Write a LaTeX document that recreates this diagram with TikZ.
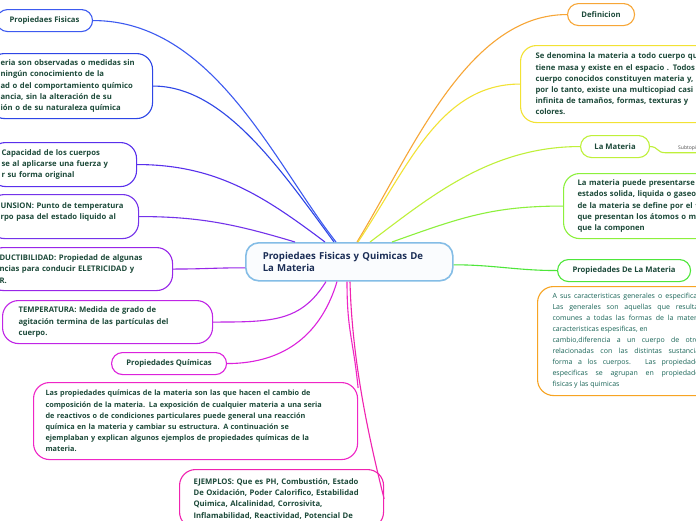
\documentclass[tikz,border=0pt]{standalone}
\usepackage{fontspec}
\setmainfont{Open Sans}
\usetikzlibrary{calc}
\definecolor{TopicText}{HTML}{1D4A3A}
\definecolor{CtrText}  {HTML}{1A2D55}
\definecolor{CtrLine}  {HTML}{84BDE6}
\definecolor{ColFis}   {HTML}{3D5AF0}
\definecolor{ColFisPar}{HTML}{2E46E6}
\definecolor{ColElas}  {HTML}{5930EC}
\definecolor{ColFus}   {HTML}{7433EA}
\definecolor{ColDuct}  {HTML}{9826E8}
\definecolor{ColTemp}  {HTML}{C025E6}
\definecolor{ColQui}   {HTML}{DC22DC}
\definecolor{ColQuiPar}{HTML}{EF26C6}
\definecolor{ColEjem}  {HTML}{F023B0}
\definecolor{ColDef}   {HTML}{F7A637}
\definecolor{ColDefPar}{HTML}{F2E234}
\definecolor{ColMat}   {HTML}{BFF03A}
\definecolor{ColEst}   {HTML}{8CF03C}
\definecolor{ColProp}  {HTML}{4EE63A}
\definecolor{ColPropPar}{HTML}{F7A423}
\tikzset{
  topic/.style={draw,line width=1.1pt,rounded corners=11pt,fill=white,text=TopicText,
    font=\bfseries\fontsize{7.7}{11.2}\selectfont,inner sep=0pt,anchor=north west,
    minimum height=22pt},
  para/.style={topic,align=left,rounded corners=16pt,inner xsep=12pt},
  link/.style={line width=1.1pt},
}
\begin{document}
\begin{tikzpicture}[x=1pt,y=-1pt]
\useasboundingbox (0,0) rectangle (696,520);
\clip (0,0) rectangle (696,520);
\fill[white] (0,0) rectangle (696,520);

% central topic
\node[draw=CtrLine,line width=1.6pt,rounded corners=13pt,fill=CtrLine!4,text=CtrText,
  font=\bfseries\fontsize{9.6}{12.3}\selectfont,align=left,inner xsep=17pt,inner ysep=0pt,
  text width=173pt,minimum height=38pt,anchor=north west] (ctr) at (245,242)
  {Propiedaes Fisicas y Quimicas De\\La Materia};

% left branch
\node[topic,draw=ColFis,minimum width=96pt] (fis) at (-4,9) {Propiedaes Fisicas};
\node[para,draw=ColFisPar,text width=140pt,minimum height=65pt] (fispar) at (-12,53)
  {eria son observadas o medidas sin\\ningún conocimiento de la\\ad o del comportamiento químico\\ancia, sin la alteración de su\\ión o de su naturaleza química};
\node[para,draw=ColElas,text width=123pt,minimum height=44pt] (elas) at (-11,142)
  {Capacidad de los cuerpos\\se al aplicarse una fuerza y\\r su forma original};
\node[para,draw=ColFus,text width=126pt,minimum height=44pt] (fus) at (-12,194)
  {UNSION: Punto de temperatura\\rpo pasa del estado liquido al\\~};
\node[para,draw=ColDuct,text width=161pt,minimum height=43pt] (duct) at (-13,247)
  {DUCTIBILIDAD: Propiedad de algunas\\ncias para conducir ELETRICIDAD y\\R.};
\node[para,draw=ColTemp,inner xsep=16pt,text width=178pt,minimum height=43pt] (temp) at (2,300)
  {TEMPERATURA: Medida de grado de\\agitación termina de las partículas del\\cuerpo.};
\node[topic,draw=ColQui,minimum width=115pt] (qui) at (111,352) {Propiedades Químicas};
\node[para,draw=ColQuiPar,text width=300pt,minimum height=77pt,
  font=\bfseries\fontsize{7.3}{11.2}\selectfont,inner xsep=12pt] (quipar) at (33,382)
  {Las propiedades químicas de la materia son las que hacen el cambio de\\composición de la materia. La exposición de cualquier materia a una seria\\de reactivos o de condiciones particulares puede general una reacción\\química en la materia y cambiar su estructura. A continuación se\\ejemplaban y explican algunos ejemplos de propiedades químicas de la\\materia.};
\node[para,draw=ColEjem,inner xsep=14pt,text width=176pt,inner ysep=9pt] (ejem) at (179,469)
  {EJEMPLOS: Que es PH, Combustión, Estado\\De Oxidación, Poder Calorifico, Estabilidad\\Quimica, Alcalinidad, Corrosivita,\\Inflamabilidad, Reactividad, Potencial De};

% right branch
\node[topic,draw=ColDef,minimum width=67pt] (defi) at (567,3) {Definicion};
\node[para,draw=ColDefPar,inner xsep=15pt,text width=200pt,minimum height=77pt] (defpar) at (520,45)
  {Se denomina la materia a todo cuerpo que\\tiene masa y existe en el espacio . Todos\\cuerpo conocidos constituyen materia y,\\por lo tanto, existe una multicopiad casi\\infinita de tamaños, formas, texturas y\\colores.};
\node[topic,draw=ColMat,minimum width=69pt] (mat) at (580,135) {La Materia};
\node[text=black!70,font=\fontsize{5}{6}\selectfont,inner xsep=13pt,inner ysep=2pt,anchor=west] (sub) at (665,148) {Subtopic};
\node[para,draw=ColEst,inner xsep=14pt,text width=210pt,minimum height=65pt] (estpar) at (563,173)
  {La materia puede presentarse en\\estados solida, liquida o gaseosa\\de la materia se define por el tipo\\que presentan los átomos o moléculas\\que la componen};
\node[topic,draw=ColProp,minimum width=133pt] (prop) at (557,259) {Propiedades De La Materia};
\node[para,draw=ColPropPar,inner xsep=15pt,text width=150pt,minimum height=109pt,align=justify,
  font=\fontsize{7}{11}\selectfont,text=TopicText!85!cyan] (proppar) at (537,286)
  {A sus caracteristicas generales o especificas.\linebreak Las generales son aquellas que resultan\linebreak comunes a todas las formas de la materia\linebreak caracteristicas espesificas, en\newline cambio,diferencia a un cuerpo de otros\linebreak relacionadas con las distintas sustancias\linebreak forma a los cuerpos. Las propiedades\linebreak especificas se agrupan en propiedades\linebreak fisicas y las quimicas};

% connectors
\draw[link,ColFis]    (fis.east)    .. controls +(120,0) and +(-62,-79) .. ([xshift=91pt]ctr.north west);
\draw[link,ColFisPar] (fispar.east) .. controls +(70,0)  and +(-55,-75) .. ([xshift=89pt]ctr.north west);
\draw[link,ColElas]   (elas.east)   .. controls +(80,0)  and +(-60,-45) .. ([xshift=80pt]ctr.north west);
\draw[link,ColFus]    (fus.east)    .. controls +(60,0)  and +(-60,-18) .. ([xshift=50pt]ctr.north west);
\draw[link,ColDuct]   (duct.east)   .. controls +(30,0)  and +(-30,0)   .. ([yshift=-6pt]ctr.west);
\draw[link,ColTemp]   (temp.east)   .. controls +(60,0)  and +(-25,40)  .. ([xshift=81pt]ctr.south west);
\draw[link,ColQui]    (qui.east)    .. controls +(60,0)  and +(-15,50)  .. ([xshift=92pt]ctr.south west);
\draw[link,ColQuiPar] ([xshift=102pt]ctr.south west) .. controls +(0,50) and +(-5,-50) .. ([yshift=-6pt]quipar.north east);
\draw[link,ColEjem]   ([xshift=105pt]ctr.south west) .. controls +(2,80) and +(-15,-60) .. (ejem.east);
\draw[link,ColDef]    (defi.west)   .. controls +(-100,0) and +(55,-90) .. ([xshift=112pt]ctr.north west);
\draw[link,ColDefPar] (defpar.west) .. controls +(-80,0) and +(50,-75)  .. ([xshift=113pt]ctr.north west);
\draw[link,ColMat]    (mat.west)    .. controls +(-90,0) and +(60,-45)  .. ([xshift=125pt]ctr.north west);
\draw[link,ColEst]    (estpar.west) .. controls +(-70,0) and +(70,-25)  .. ([xshift=147pt]ctr.north west);
\draw[link,ColProp]   (prop.west)   .. controls +(-40,0) and +(40,0)    .. ([yshift=-3pt]ctr.east);
\draw[link,ColMat]    (mat.east)    .. controls +(8,0) and +(-8,0) .. (sub.south west) -- (sub.south east);
\end{tikzpicture}
\end{document}
